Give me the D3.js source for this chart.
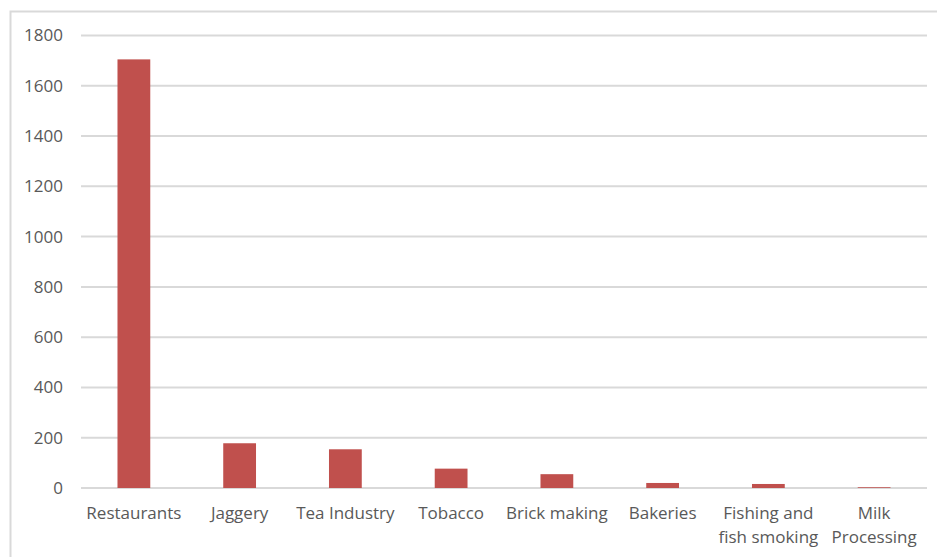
<!DOCTYPE html>
<html>
<head>
<meta charset="utf-8">
<script src="https://cdn.jsdelivr.net/npm/d3@7"></script>
<style>
  body { margin: 0; background: #fff; }
  text { font-family: "Open Sans", Lato, sans-serif; fill: #595959; }
</style>
</head>
<body>
<div id="chart"></div>
<script>
  var categories = ["Restaurants", "Jaggery", "Tea Industry", "Tobacco", "Brick making", "Bakeries", "Fishing and fish smoking", "Milk Processing"];
  var labelLines = [["Restaurants"], ["Jaggery"], ["Tea Industry"], ["Tobacco"], ["Brick making"], ["Bakeries"], ["Fishing and", "fish smoking"], ["Milk", "Processing"]];
  var values = [1705, 178, 154, 77, 55, 20, 16, 3];
  var ticks = [0, 200, 400, 600, 800, 1000, 1200, 1400, 1600, 1800];

  var W = 937, H = 557;
  var margin = {top: 35.5, right: 10, bottom: 69, left: 81};
  var width = W - margin.left - margin.right,
      height = H - margin.top - margin.bottom;

  var svg = d3.select("#chart")
    .append("svg")
      .attr("width", W)
      .attr("height", H);

  // chart frame
  svg.append("rect")
    .attr("x", 10.5)
    .attr("y", 11.5)
    .attr("width", W + 20)
    .attr("height", H + 20)
    .style("fill", "none")
    .style("stroke", "#d9d9d9")
    .style("stroke-width", 2);

  var x = d3.scaleBand()
    .domain(categories)
    .range([0, width])
    .paddingInner(0.69)
    .paddingOuter(0.345);

  var y = d3.scaleLinear()
    .domain([0, 1800])
    .range([height, 0]);

  var vis = svg.append("g")
    .attr("transform", "translate(" + margin.left + "," + margin.top + ")");

  // gridlines
  vis.append("g")
    .selectAll("line")
    .data(ticks)
    .enter()
    .append("line")
      .attr("x1", 0)
      .attr("x2", width)
      .attr("y1", function(d) { return y(d); })
      .attr("y2", function(d) { return y(d); })
      .style("stroke", "#d9d9d9")
      .style("stroke-width", 2);

  // y labels
  var yax = d3.axisLeft(y).tickValues(ticks).tickSize(0).tickPadding(18).tickFormat(d3.format("d"));
  var yg = vis.append("g").call(yax);
  yg.select(".domain").remove();
  yg.selectAll("text")
    .style("font-size", "17px")
    .style("fill", "#595959")
    .style("font-family", "'Open Sans', Lato, sans-serif");

  // bars
  vis.append("g")
    .selectAll("rect")
    .data(values)
    .enter()
    .append("rect")
      .attr("x", function(d, i) { return x(categories[i]); })
      .attr("y", function(d) { return y(d); })
      .attr("width", x.bandwidth())
      .attr("height", function(d) { return height - y(d); })
      .style("fill", "#c0504d");

  // x labels
  var xl = vis.append("g")
    .selectAll("text")
    .data(categories)
    .enter()
    .append("text")
      .attr("x", function(d) { return x(d) + x.bandwidth() / 2; })
      .attr("y", height + 31)
      .attr("text-anchor", "middle")
      .style("font-size", "17px");

  xl.each(function(d, i) {
    var t = d3.select(this);
    labelLines[i].forEach(function(line, j) {
      t.append("tspan")
        .attr("x", x(d) + x.bandwidth() / 2)
        .attr("dy", j === 0 ? 0 : 24)
        .text(line);
    });
  });
</script>
</body>
</html>
